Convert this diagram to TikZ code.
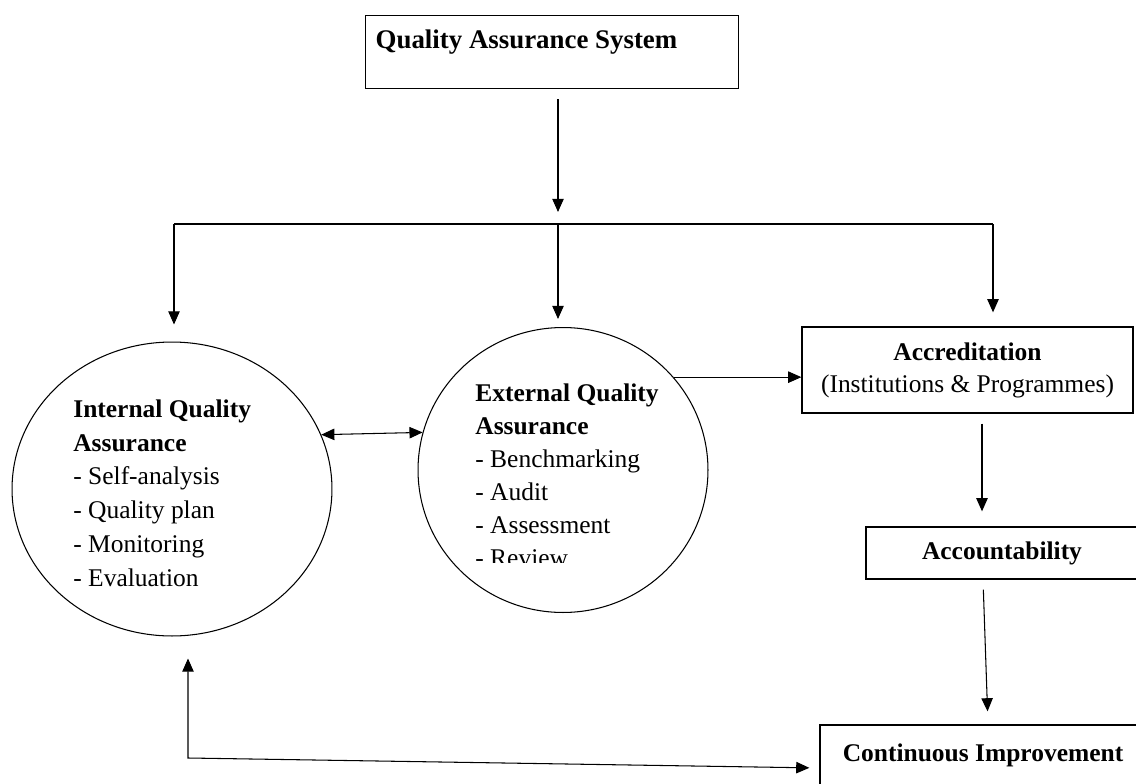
\documentclass[tikz,border=0pt]{standalone}
\usepackage{fontspec}
\setmainfont{Liberation Serif}
\usetikzlibrary{arrows.meta,shapes.geometric}

\begin{document}
\begin{tikzpicture}[
    x=0.02cm, y=-0.02cm,
    >={Triangle[length=7.5pt,width=6.5pt]},
    font=\fontsize{14.5}{19.2}\selectfont,
    bloc/.style={draw, line width=0.75pt, align=center, inner sep=0pt},
    cercle/.style={draw, ellipse, line width=0.6pt, inner sep=0pt},
    liste/.style={align=left, inner sep=0pt, anchor=north west},
    fleche/.style={->, line width=0.6pt},
  ]
  \useasboundingbox (0,0) rectangle (1136,784);
  % --- Système (en haut) ---
  \node[bloc, anchor=north west, align=left, minimum width=7.34cm, inner xsep=0.2cm,
        text height=0.66cm, text depth=0.8cm, font=\fontsize{15.3}{19}\selectfont]
        (qas) at (365,15) {\textbf{Quality Assurance System}\hspace*{1.02cm}};
  \coordinate (fork) at (558,224);
  \coordinate (fl) at (174,224);
  \coordinate (fr) at (993,224);
  % --- Assurance qualité interne / externe ---
  \node[cercle, minimum width=6.4cm, minimum height=5.88cm] (iqa) at (172,489) {};
  \node[liste] (iqatxt) at (73,399.5) {\textbf{Internal Quality}\\\textbf{Assurance}\\- Self-analysis\\- Quality plan\\- Monitoring\\- Evaluation};
  \node[cercle, minimum width=5.8cm, minimum height=5.7cm] (eqa) at (563,470) {};
  \begin{scope}
    % dernière ligne coupée par le bas du cadre de texte
    \clip (420,370) rectangle (700,562);
    \node[liste, font=\fontsize{14.5}{18.8}\selectfont] (eqatxt) at (475,383.5)
      {\textbf{External Quality}\\\textbf{Assurance}\\- Benchmarking\\- Audit\\- Assessment\\- Review};
  \end{scope}
  % --- Colonne de droite ---
  \node[bloc, minimum width=6.62cm, minimum height=1.72cm, font=\fontsize{14.5}{18.2}\selectfont] (acc) at (967.5,370) {\textbf{Accreditation}\\(Institutions \& Programmes)};
  \node[bloc, minimum width=5.44cm, minimum height=1.04cm] (acct) at (1002,553) {\textbf{Accountability}};
  \node[bloc, minimum width=6.52cm, minimum height=1.2cm] (ci) at (983,755) {\textbf{Continuous Improvement}};
  \coordinate (coin) at (188,758);

  % Distribution depuis le système
  \draw[fleche, shorten <=0.2cm, shorten >=0.24cm] (qas.south -| fork) -- (fork);
  \draw[line width=0.6pt] (fl) -- (fr);
  \draw[fleche, shorten >=0.34cm] (fl) -- (fl |- iqa.north);
  \draw[fleche, shorten >=0.16cm] (fork) -- (fork |- eqa.north);
  \draw[fleche, shorten >=0.28cm] (fr) -- (fr |- acc.north);
  % Échanges entre les deux cercles
  \draw[fleche, <->] (iqa.20.7) -- (eqa.165.2);
  \draw[fleche] (eqa.40) -- (eqa.40 -| acc.west);
  % Chaîne de droite
  \draw[fleche, shorten <=0.2cm, shorten >=0.3cm] ([xshift=0.29cm]acc.south) -- ([xshift=0.29cm]acc.south |- acct.north);
  \draw[fleche, shorten <=0.2cm, shorten >=0.26cm] ([xshift=-0.38cm]acct.south) -- ([xshift=0.1cm]ci.north);
  % Retour vers l'interne
  \draw[fleche, <->, shorten <=0.44cm, shorten >=0.2cm] (iqa.south -| coin) -- (coin) -- ([yshift=-0.26cm]ci.west);
\end{tikzpicture}
\end{document}
